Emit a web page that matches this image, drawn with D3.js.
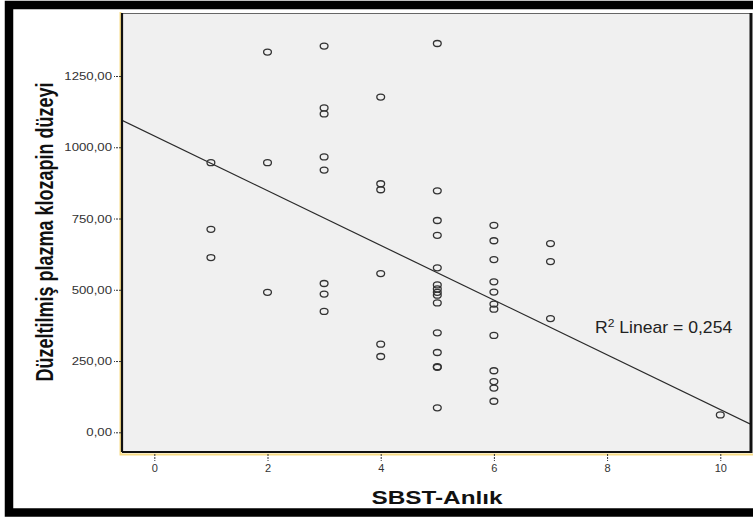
<!DOCTYPE html>
<html>
<head>
<meta charset="utf-8">
<script src="https://cdn.jsdelivr.net/npm/d3@7"></script>
<style>
  body { margin: 0; background: #fff; }
  svg { display: block; font-family: "Liberation Sans", Arial, sans-serif; }
</style>
</head>
<body>
<svg id="chart" width="753" height="517"></svg>
<script>
// SBST-Anlık scores (x) and corrected plasma clozapine level (y)
const sbstScores = [
  1, 1, 1,
  2, 2, 2,
  3, 3, 3, 3, 3, 3, 3, 3,
  4, 4, 4, 4, 4, 4,
  5, 5, 5, 5, 5, 5, 5, 5, 5, 5, 5, 5, 5, 5, 5,
  6, 6, 6, 6, 6, 6, 6, 6, 6, 6, 6, 6,
  7, 7, 7,
  10
]
const clozapineLevels = [
  946, 712, 613,
  1334, 946, 491,
  1355, 1138, 1117, 966, 920, 522, 485, 424,
  1176, 872, 851, 557, 309, 266,
  1364, 847, 743, 691, 577, 517, 503, 491, 481, 454, 349, 280, 230, 228, 86,
  726, 672, 606, 528, 492, 450, 432, 340, 216, 178, 155, 109,
  662, 599, 399,
  61
]
const xTicks = [0, 2, 4, 6, 8, 10]
const yTicks = [0, 250, 500, 750, 1000, 1250]
const rSquaredLabel = "0,254"

const svg = d3.select('#chart')

// plot frame in pixels
const frameL = 122, frameR = 750, frameT = 13, frameB = 452
// the source picture is a bit stretched sideways, text gets the same treatment
const stretch = 1.25

const x = d3.scaleLinear().domain([-0.571, 10.525]).range([frameL, frameR])
const y = d3.scaleLinear().domain([-69.1, 1471]).range([frameB, frameT])

const trLocale = d3.formatLocale({ decimal: ",", thousands: "", grouping: [3], currency: ["", ""] })
const fmtY = trLocale.format(".2f")

const points = sbstScores.map((s, i) => ({ x: s, y: clozapineLevels[i] }))

// least squares fit line
const mx = d3.mean(points, d => d.x), my = d3.mean(points, d => d.y)
const sxy = d3.sum(points, d => (d.x - mx) * (d.y - my))
const sxx = d3.sum(points, d => (d.x - mx) * (d.x - mx))
const slope = sxy / sxx
const intercept = my - slope * mx

// outer black frame
svg.append('rect')
  .attr('x', 9).attr('y', 5).attr('width', 760).attr('height', 507.5)
  .attr('fill', 'none').attr('stroke', '#000').attr('stroke-width', 8.5)

// yellow selection outline (left and bottom)
svg.append('path')
  .attr('d', `M${frameL - 1.5},${frameT - 1} V${frameB + 2.5} H753`)
  .attr('fill', 'none').attr('stroke', '#f7dc86').attr('stroke-width', 2)

// plot background
svg.append('rect')
  .attr('x', frameL).attr('y', frameT).attr('width', frameR - frameL).attr('height', frameB - frameT)
  .attr('fill', '#f0f0f0')

svg.append('defs').append('clipPath').attr('id', 'clip')
  .append('rect').attr('x', frameL).attr('y', frameT).attr('width', frameR - frameL).attr('height', frameB - frameT)

const plot = svg.append('g').attr('clip-path', 'url(#clip)')

// regression line
const xs = x.domain()
plot.append('line')
  .attr('x1', x(xs[0])).attr('y1', y(intercept + slope * xs[0]))
  .attr('x2', x(xs[1])).attr('y2', y(intercept + slope * xs[1]))
  .attr('stroke', '#2a2a2a').attr('stroke-width', 1.2)

// markers
plot.selectAll('ellipse.pt')
  .data(points)
  .join('ellipse')
  .attr('class', 'pt')
  .attr('cx', d => x(d.x)).attr('cy', d => y(d.y))
  .attr('rx', 3.9).attr('ry', 3)
  .attr('fill', 'none').attr('stroke', '#333').attr('stroke-width', 1.3)

// frame edges
svg.append('line').attr('x1', frameL).attr('x2', frameR).attr('y1', frameT + 0.5).attr('y2', frameT + 0.5)
  .attr('stroke', '#666').attr('stroke-width', 1)
svg.append('line').attr('x1', frameL).attr('x2', frameL).attr('y1', frameT).attr('y2', frameB)
  .attr('stroke', '#111').attr('stroke-width', 2.2)
svg.append('line').attr('x1', frameL).attr('x2', frameR).attr('y1', frameB).attr('y2', frameB)
  .attr('stroke', '#111').attr('stroke-width', 2.2)
svg.append('line').attr('x1', frameR + 1).attr('x2', frameR + 1).attr('y1', frameT).attr('y2', frameB + 1)
  .attr('stroke', '#111').attr('stroke-width', 3)

// y axis
const yAxis = d3.axisLeft(y).tickValues(yTicks).tickFormat(fmtY).tickSize(7).tickPadding(2)
const gy = svg.append('g').attr('transform', `translate(${frameL - 1},0)`).call(yAxis)
gy.select('.domain').remove()
gy.selectAll('.tick line').attr('stroke', '#333').attr('stroke-dasharray', '2,1')
gy.selectAll('.tick text').attr('fill', '#333').style('font-size', '11px')
  .style('font-family', '"Liberation Sans", Arial, sans-serif')
  .attr('x', -9 / 1.2).attr('transform', 'scale(1.2,1)')

// x axis
const xAxis = d3.axisBottom(x).tickValues(xTicks).tickFormat(d3.format('d')).tickSize(7).tickPadding(3)
const gx = svg.append('g').attr('transform', `translate(0,${frameB + 2})`).call(xAxis)
gx.select('.domain').remove()
gx.selectAll('.tick line').attr('stroke', '#333').attr('stroke-dasharray', '2,1')
gx.selectAll('.tick text').attr('fill', '#333').style('font-size', '11px')
  .style('font-family', '"Liberation Sans", Arial, sans-serif')

// axis titles
svg.append('text')
  .attr('transform', `translate(53,232) scale(1.35,1) rotate(-90)`)
  .attr('text-anchor', 'middle')
  .style('font-size', '18px').style('font-weight', 'bold').attr('fill', '#111')
  .text('Düzeltilmiş plazma klozapin düzeyi')

svg.append('text')
  .attr('transform', `translate(437,504) scale(${stretch + 0.03},1)`)
  .attr('text-anchor', 'middle')
  .style('font-size', '19px').style('font-weight', 'bold').attr('fill', '#111')
  .text('SBST-Anlık')

// R² annotation
const rt = svg.append('text')
  .attr('transform', 'translate(595,333) scale(1.1,1)')
  .style('font-size', '16px').attr('fill', '#222')
rt.append('tspan').text('R')
rt.append('tspan').attr('dy', -6).style('font-size', '11px').text('2')
rt.append('tspan').attr('dy', 6).text(' Linear = ' + rSquaredLabel)
</script>
</body>
</html>
